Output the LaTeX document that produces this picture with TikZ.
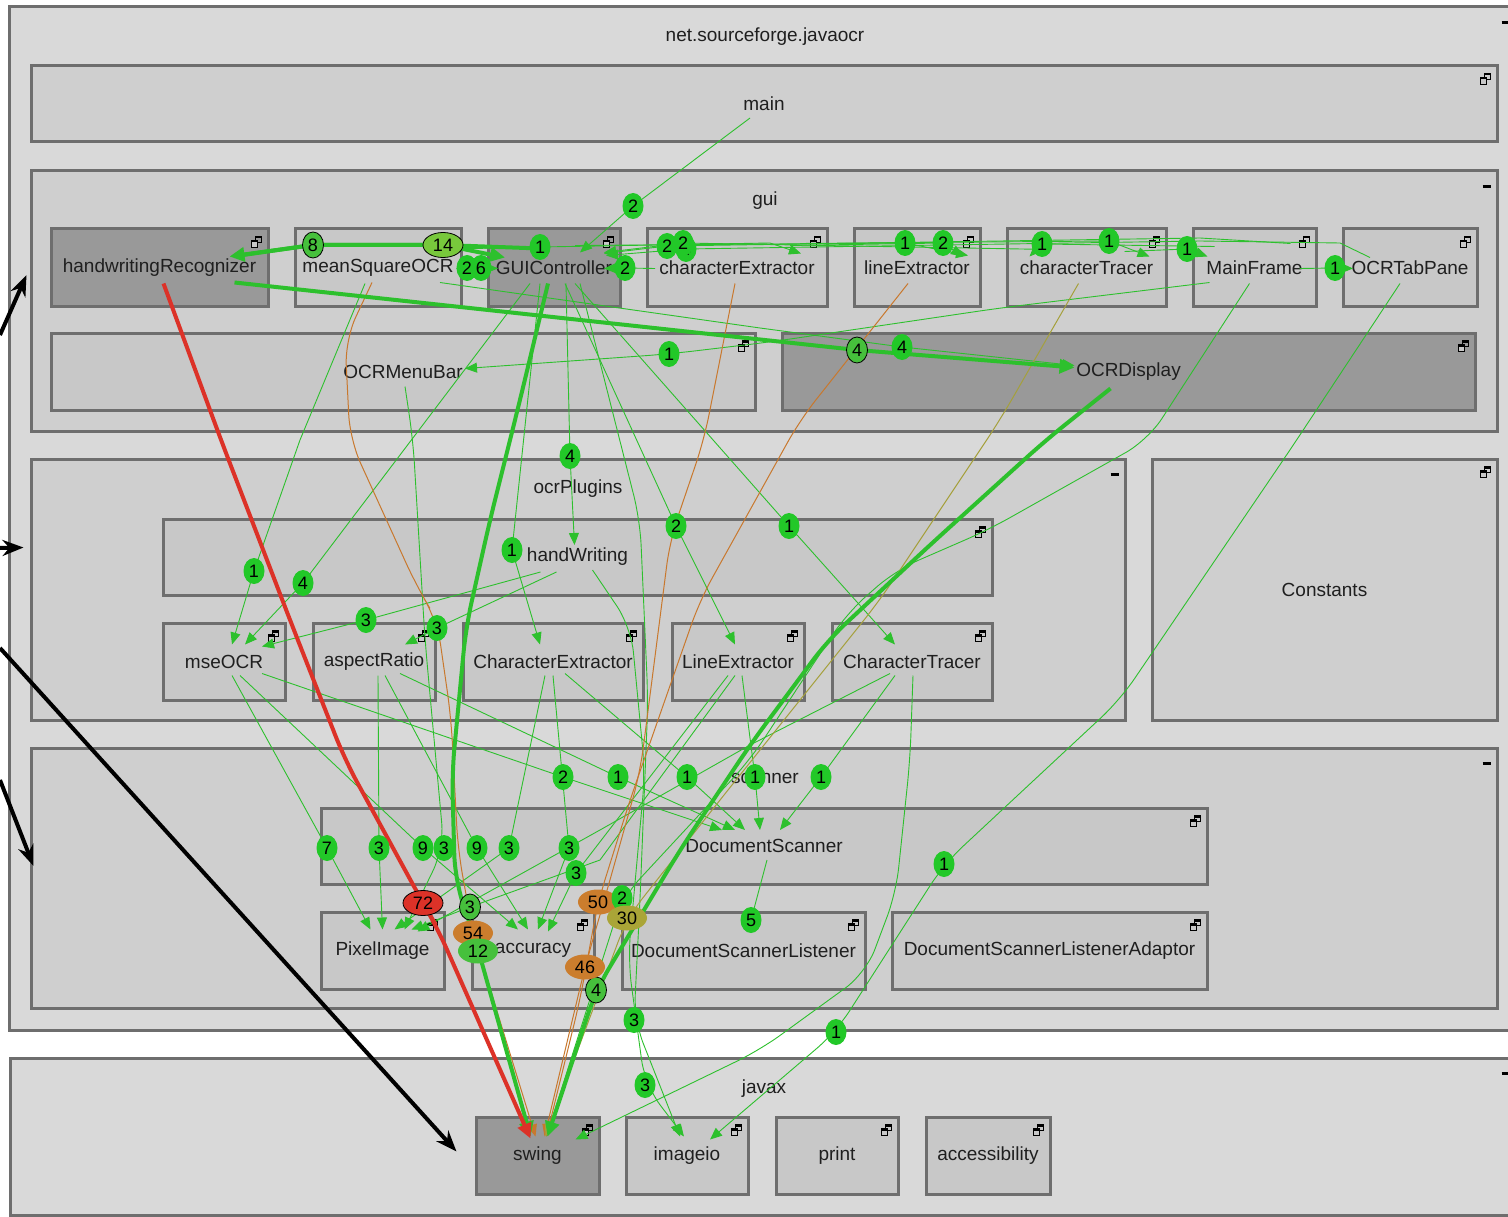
\documentclass[tikz,border=0pt]{standalone}
\usepackage{fontspec}
\setmainfont{Liberation Sans}
\usetikzlibrary{arrows.meta,shapes.geometric}

\definecolor{rootfill}{RGB}{217,217,217}
\definecolor{pkgfill}{RGB}{207,207,207}
\definecolor{leaffill}{RGB}{200,200,200}
\definecolor{darkfill}{RGB}{153,153,153}
\definecolor{frame}{RGB}{110,110,110}
\definecolor{depgreen}{RGB}{45,192,45}
\definecolor{badgegreen}{RGB}{34,200,40}
\definecolor{ringgreen}{RGB}{70,192,60}
\definecolor{palegreen}{RGB}{120,200,60}
\definecolor{deporange}{RGB}{200,120,45}
\definecolor{badgeorange}{RGB}{203,125,45}
\definecolor{depolive}{RGB}{165,160,60}
\definecolor{badgeolive}{RGB}{170,165,55}
\definecolor{redline}{RGB}{220,50,40}

\tikzset{
  txt/.style={font=\fontsize{19}{22}\selectfont, text=black!88},
  box/.style={draw=frame, line width=3pt, inner sep=0pt, txt},
  container/.style={box, fill=pkgfill},
  leaf/.style={box, fill=leaffill},
  darkleaf/.style={box, fill=darkfill},
  dep/.style={draw=depgreen, line width=0.9pt, -{Triangle[length=12pt,width=10pt]}},
  depthick/.style={draw=depgreen, line width=4pt, -{Triangle[length=15pt,width=14pt]}},
  deporng/.style={draw=deporange, line width=1pt, -{Triangle[length=12pt,width=10pt]}},
  depolv/.style={draw=depolive, line width=1pt, -{Triangle[length=12pt,width=10pt]}},
  redthick/.style={draw=redline, line width=4pt, -{Triangle[length=15pt,width=14pt]}},
  curvy/.style={rounded corners=25pt},
  badge/.style={ellipse, fill=badgegreen, inner sep=0pt, minimum width=21pt,
    minimum height=26pt, font=\fontsize{18}{18}\selectfont, text=black},
  wide/.style={minimum width=40pt, minimum height=25pt},
  ring/.style={draw=black, line width=0.8pt, fill=ringgreen},
  annot/.style={draw=black, line width=4pt, -{Stealth[length=21pt,width=16pt]}},
  minus/.style={draw=black, line width=2.5pt},
  winicon/.pic={
    \draw[black, line width=1.1pt] (-1,-6) rectangle (5,0);
    \fill[black] (-1.5,-6.5) rectangle (5.5,-4);
    \filldraw[fill=leaffill, draw=black, line width=1.1pt] (-5,-2) rectangle (1,5);
    \fill[black] (-5.5,-2.5) rectangle (1.5,0);
  }
}

\begin{document}
\begin{tikzpicture}[x=1pt,y=-1pt]
\useasboundingbox (0,0) rectangle (1508,1217);
\fill[white] (0,0) rectangle (1508,1217);
\clip (0,0) rectangle (1508,1217);

% ---------- packages and classes ----------
\node[container, fill=rootfill, minimum width=1507pt, minimum height=1023pt] (root) at (762.5,518.5) {};
\node[txt] (rootlbl) at (765,37) {net.sourceforge.javaocr};

\node[container, minimum width=1466pt, minimum height=76pt] (main) at (764,104) {main};

\node[container, minimum width=1466pt, minimum height=260pt] (gui) at (764,301) {};
\node[txt] (guilbl) at (765,201) {gui};
\node[darkleaf, minimum width=217pt, minimum height=77pt] (hr) at (159.5,267.5) {handwritingRecognizer};
\node[leaf, minimum width=166pt, minimum height=77pt] (msocr) at (378,267.5) {meanSquareOCR};
\node[darkleaf, minimum width=132pt, minimum height=77pt] (gc) at (554,267.5) {GUIController};
\node[leaf, minimum width=180pt, minimum height=77pt] (cex) at (737,267.5) {characterExtractor};
\node[leaf, minimum width=126pt, minimum height=77pt] (lex) at (917,267.5) {lineExtractor};
\node[leaf, minimum width=159pt, minimum height=77pt] (ctr) at (1086.5,267.5) {characterTracer};
\node[leaf, minimum width=123pt, minimum height=77pt] (mf) at (1254.5,267.5) {MainFrame};
\node[leaf, minimum width=134pt, minimum height=77pt] (otp) at (1410,267.5) {OCRTabPane};
\node[leaf, minimum width=704pt, minimum height=77pt] (omb) at (403,371.5) {OCRMenuBar};
\node[darkleaf, minimum width=693pt, minimum height=77pt] (odisp) at (1128.5,371.5) {OCRDisplay};

\node[container, minimum width=1094pt, minimum height=261pt] (plug) at (578,589.5) {};
\node[txt] (pluglbl) at (578,489) {ocrPlugins};
\node[leaf, minimum width=829pt, minimum height=76pt] (hw) at (577.5,557) {handWriting};
\node[leaf, minimum width=122pt, minimum height=77pt] (mse) at (224,661.5) {mseOCR};
\node[leaf, minimum width=122pt, minimum height=77pt] (asp) at (374,661.5) {aspectRatio};
\node[leaf, minimum width=180pt, minimum height=77pt] (pce) at (553,661.5) {CharacterExtractor};
\node[leaf, minimum width=132pt, minimum height=77pt] (ple) at (738,661.5) {LineExtractor};
\node[leaf, minimum width=160pt, minimum height=77pt] (pct) at (912,661.5) {CharacterTracer};
\node[container, minimum width=345pt, minimum height=261pt] (const) at (1324.5,589.5) {Constants};

\node[container, minimum width=1466pt, minimum height=260pt] (scan) at (764,878) {};
\node[txt] (scanlbl) at (765,778) {scanner};
\node[leaf, minimum width=886pt, minimum height=76pt] (ds) at (764,846) {DocumentScanner};
\node[leaf, minimum width=123pt, minimum height=77pt] (pix) at (382.5,950.5) {PixelImage};
\node[leaf, minimum width=122pt, minimum height=77pt] (acc) at (533,950.5) {accuracy};
\node[leaf, minimum width=243pt, minimum height=77pt] (dsl) at (743.5,950.5) {DocumentScannerListener};
\node[leaf, minimum width=315pt, minimum height=77pt] (dsla) at (1049.5,950.5) {DocumentScannerListenerAdaptor};

\node[container, fill=rootfill, minimum width=1506pt, minimum height=157pt] (javax) at (763,1136.5) {};
\node[txt] (javaxlbl) at (764,1089) {javax};
\node[darkleaf, minimum width=123pt, minimum height=77pt] (swing) at (537.5,1155.5) {swing};
\node[leaf, minimum width=122pt, minimum height=77pt] (imageio) at (687,1155.5) {imageio};
\node[leaf, minimum width=122pt, minimum height=77pt] (print) at (837,1155.5) {print};
\node[leaf, minimum width=124pt, minimum height=77pt] (access) at (988,1155.5) {accessibility};

% restore icons in the top right corners
\foreach \n in {main,hr,msocr,gc,cex,lex,ctr,mf,otp,omb,odisp,hw,mse,asp,pce,ple,pct,const,ds,pix,acc,dsl,dsla,swing,imageio,print,access}
  \pic at ([shift={(-13,15)}]\n.north east) {winicon};
% collapse marks of the expanded packages
\foreach \n in {root,gui,plug,scan,javax}
  \draw[minus] ([shift={(-16,17)}]\n.north east) -- ([shift={(-8,17)}]\n.north east);

% ---------- thin dependencies ----------
\draw[dep] ([shift={(-14,14)}]main.center) -- (633,206) coordinate (b1) -- ([shift={(26,-15)}]gc.center);
\draw[dep] ([shift={(-57,1)}]gc.center) -- (467,268) coordinate (b2a) -- ([shift={(78,1)}]msocr.center);
\draw[dep] ([shift={(82,3)}]msocr.center) -- (481,268) coordinate (b6) -- ([shift={(-56,1)}]gc.center);
\draw[dep] ([shift={(-82,1)}]cex.center) -- (625,268) coordinate (b2c) -- ([shift={(50,1)}]gc.center);
\draw[dep] ([shift={(52,-18)}]msocr.center) -- (540,247) coordinate (b1a) -- (770,243) -- ([shift={(64,-14)}]cex.center);
\draw[dep] ([shift={(36,-24)}]mf.center) -- (1200,238) -- (667,246) coordinate (b2b) -- ([shift={(50,-14)}]gc.center);
\draw[dep] ([shift={(-40,-10)}]otp.center) -- (1340,243) -- (1200,241) -- (686,249) coordinate (b4c) -- ([shift={(52,-12)}]gc.center);
\draw[dep] ([shift={(-37,-18)}]ctr.center) -- (683,243) coordinate (b2g) -- ([shift={(50,-15)}]gc.center);
\draw[dep] ([shift={(21,-22)}]gc.center) -- (905,243) coordinate (b1d) -- ([shift={(51,-12)}]lex.center);
\draw[dep] ([shift={(53,-22)}]cex.center) -- (943,243) coordinate (b2e) -- ([shift={(46,-11)}]lex.center);
\draw[dep] ([shift={(-40,-21)}]mf.center) -- (1042,244) coordinate (b1f) -- ([shift={(-57,-11)}]ctr.center);
\draw[dep] ([shift={(63,-24)}]cex.center) -- (1109,241) coordinate (b1h) -- ([shift={(63,-11)}]ctr.center);
\draw[dep] ([shift={(38,-16)}]ctr.center) -- (1187,249) coordinate (b1i) -- ([shift={(-47,-11)}]mf.center);
\draw[dep] ([shift={(45,1)}]mf.center) -- (1335,268) coordinate (b1m) -- ([shift={(-57,1)}]otp.center);
\draw[dep] ([shift={(62,15)}]msocr.center) -- (760,328) -- (902,347) coordinate (b4p) -- ([shift={(-54,-6)}]odisp.center);
\draw[dep,curvy] ([shift={(-45,15)}]mf.center) -- (1000,308) -- (770,342) -- (669,354) coordinate (b1o) -- ([shift={(62,-3)}]omb.center);

\draw[dep,curvy] ([shift={(-5,16)}]mf.center) -- (1148,440) -- (988,530) -- (896,570) -- (847,613) -- (750,760) -- (622,898) coordinate (b2s) -- ([shift={(9,-19)}]swing.center);
\draw[dep,curvy] ([shift={(1,14)}]pct.center) -- (910,760) -- (896,893) -- (866,973) -- (760,1050) -- ([shift={(38,-16)}]swing.center);
\draw[dep,curvy] ([shift={(-10,16)}]otp.center) -- (1290,450) -- (1120,700) -- (944,864) coordinate (b1t) -- (836,1032) coordinate (b1u) -- ([shift={(23,-16)}]imageio.center);

\draw[dep] ([shift={(12,16)}]gc.center) -- (570,456) coordinate (b4h) -- ([shift={(-3,-12)}]hw.center);
\draw[dep] ([shift={(-14,16)}]gc.center) -- (512,550) coordinate (b1pe) -- ([shift={(-13,-17)}]pce.center);
\draw[dep] ([shift={(11,16)}]gc.center) -- (676,526) coordinate (b2pl) -- ([shift={(-3,-17)}]ple.center);
\draw[dep] ([shift={(21,16)}]gc.center) -- (789,526) coordinate (b1pt) -- ([shift={(-17,-17)}]pct.center);
\draw[dep] ([shift={(-24,16)}]gc.center) -- (303,583) coordinate (b4m) -- ([shift={(21,-17)}]mse.center);
\draw[dep] ([shift={(-13,16)}]msocr.center) -- (300,440) -- (254,571) coordinate (b1ms) -- ([shift={(8,-17)}]mse.center);
\draw[dep] ([shift={(-37,15)}]hw.center) -- (366,620) coordinate (b3m) -- ([shift={(38,-15)}]mse.center);
\draw[dep] ([shift={(-21,15)}]hw.center) -- (437,628) coordinate (b3a) -- ([shift={(31,-17)}]asp.center);
\draw[dep,curvy] ([shift={(26,16)}]gc.center) -- (640,520) -- (648,700) -- (640,900) -- (634,1020) coordinate (b3i) -- ([shift={(-7,-19)}]imageio.center);
\draw[dep,curvy] ([shift={(15,13)}]hw.center) -- (631,627) -- (645,773) -- (628,960) -- (645,1085) coordinate (b3j) -- ([shift={(-3,-19)}]imageio.center);
\draw[dep,curvy] ([shift={(2,15)}]omb.center) -- (413,440) -- (425,640) -- (444,848) coordinate (b3o) -- ([shift={(22,-21)}]pix.center);

\draw[dep] ([shift={(8,14)}]mse.center) -- (327,848) coordinate (b7) -- ([shift={(-12,-21)}]pix.center);
\draw[dep] ([shift={(16,14)}]mse.center) -- (423,848) coordinate (b9a) -- ([shift={(-15,-21)}]acc.center);
\draw[dep] ([shift={(38,12)}]mse.center) -- (563,777) coordinate (b2d) -- ([shift={(-42,-16)}]ds.center);
\draw[dep] ([shift={(4,14)}]asp.center) -- (379,848) coordinate (b3p) -- ([shift={(0,-21)}]pix.center);
\draw[dep] ([shift={(11,14)}]asp.center) -- (477,848) coordinate (b9b) -- ([shift={(-5,-21)}]acc.center);
\draw[dep] ([shift={(26,12)}]asp.center) -- (618,777) coordinate (b1q) -- ([shift={(-29,-16)}]ds.center);
\draw[dep] ([shift={(-8,14)}]pce.center) -- (509,848) coordinate (b3r) -- ([shift={(12,-21)}]pix.center);
\draw[dep] ([shift={(0,14)}]pce.center) -- (569,848) coordinate (b3s) -- ([shift={(5,-21)}]acc.center);
\draw[dep] ([shift={(12,12)}]pce.center) -- (687,777) coordinate (b1r) -- ([shift={(-19,-16)}]ds.center);
\draw[dep] ([shift={(4,14)}]ple.center) -- (755,777) coordinate (b1s) -- ([shift={(-4,-16)}]ds.center);
\draw[dep] ([shift={(-10,14)}]ple.center) -- (576,873) coordinate (b3t) -- ([shift={(15,-19)}]acc.center);
\draw[dep] ([shift={(-17,14)}]pct.center) -- (821,777) coordinate (b1v) -- ([shift={(16,-16)}]ds.center);
\draw[dep] ([shift={(-3,14)}]ple.center) -- (600,860) -- (470,907) coordinate (b3c) -- ([shift={(29,-21)}]pix.center);
\draw[dep] ([shift={(-22,12)}]pct.center) -- (750,745) -- (600,830) -- ([shift={(35,-19)}]pix.center);
\draw[dep] ([shift={(3,14)}]ds.center) -- (751,920) coordinate (b5) -- ([shift={(4,-19)}]dsl.center);

% ---------- orange and olive dependencies ----------
\draw[deporng,curvy] ([shift={(-6,15)}]msocr.center) -- (345,340) -- (350,440) -- (417,587) -- (437,620) -- (451,717) -- (458,850) -- (473,933) coordinate (b54) -- ([shift={(-2,-19)}]swing.center);
\draw[deporng,curvy] ([shift={(-2,16)}]cex.center) -- (704,440) -- (670,540) -- (640,773) -- (610,880) -- (585,967) coordinate (b46) -- ([shift={(7,-19)}]swing.center);
\draw[deporng,curvy] ([shift={(-9,16)}]lex.center) -- (800,420) -- (700,600) -- (630,800) -- (598,902) coordinate (b50) -- (580,1000) -- ([shift={(9,-19)}]swing.center);
\draw[depolv,curvy] ([shift={(-8,16)}]ctr.center) -- (1000,420) -- (880,600) -- (720,800) -- (627,918) coordinate (b30) -- ([shift={(8,-19)}]swing.center);

% ---------- heavy dependencies ----------
\draw[depthick] ([shift={(-14,-19)}]gc.center) -- (443,245) coordinate (b14) -- (313,245) -- ([shift={(70,-11)}]hr.center);
\draw[depthick] ([shift={(80,-12)}]hr.center) -- (313,245) coordinate (b8) -- (443,245) -- ([shift={(-49,-10)}]gc.center);
\draw[depthick] ([shift={(75,15)}]hr.center) -- (857,350) coordinate (b4r) -- ([shift={(-54,-4)}]odisp.center);
\draw[depthick,curvy] ([shift={(-18,17)}]odisp.center) -- (1046,440) -- (930,545) -- (828,640) -- (750,745) -- (680,850) -- (596,990) coordinate (b4s) -- ([shift={(10,-19)}]swing.center);
\draw[depthick,curvy] ([shift={(-6,16)}]gc.center) -- (520,400) -- (490,520) -- (466,627) -- (452,773) -- (455,880) -- (476,942) coordinate (b12) -- ([shift={(-7,-19)}]swing.center);
\draw[redthick,curvy] ([shift={(4,16)}]hr.center) -- (221,440) -- (290,620) -- (345,760) -- (423,903) coordinate (b72) -- (437,927) -- ([shift={(-7,-17)}]swing.center);

% ---------- dependency counts ----------
\foreach \c/\t in {b1/2,b2a/2,b6/6,b2c/2,b1a/1,b2b/2,b4c/4,b2g/2,b1d/1,b2e/2,b1f/1,b1h/1,b1i/1,b1m/1,
  b4p/4,b1o/1,b1t/1,b1u/1,b4h/4,b1pe/1,b2pl/2,b1pt/1,b4m/4,b1ms/1,b3m/3,b3a/3,b3i/3,b3j/3,b3o/3,
  b7/7,b9a/9,b2d/2,b3p/3,b9b/9,b1q/1,b3r/3,b3s/3,b1r/1,b1s/1,b3t/3,b1v/1,b5/5}
  \node[badge] at (\c) {\t};
\node[badge,ring] at (b8) {8};
\node[badge,ring,wide,fill=palegreen] at (b14) {14};
\node[badge,ring] at (b4r) {4};
\node[badge,ring] at (b4s) {4};
\node[badge,ring] at (b3c) {3};
\node[badge,wide,fill=badgeorange] at (b54) {54};
\node[badge,wide,fill=ringgreen] at ([shift={(2,9)}]b12) {12};
\node[badge,wide,fill=badgeorange] at (b46) {46};
\node[badge,wide,fill=badgeorange] at (b50) {50};
\node[badge] at (b2s) {2};
\node[badge,wide,fill=badgeolive] at (b30) {30};
\node[badge,ring,wide,fill=redline] at (b72) {72};

% ---------- annotation arrows from the left margin ----------
\coordinate (m1) at (0,335);
\coordinate (m2) at (0,548);
\coordinate (m3) at (0,648);
\coordinate (m4) at (0,780);
\draw[annot] (m1) -- ([shift={(-3,-26)}]gui.west);
\draw[annot] (m2) -- ([shift={(-6,-42)}]plug.west);
\draw[annot] (m3) -- ([shift={(-18,-4)}]swing.west);
\draw[annot] (m4) -- ([shift={(4,-12)}]scan.west);
\end{tikzpicture}
\end{document}
